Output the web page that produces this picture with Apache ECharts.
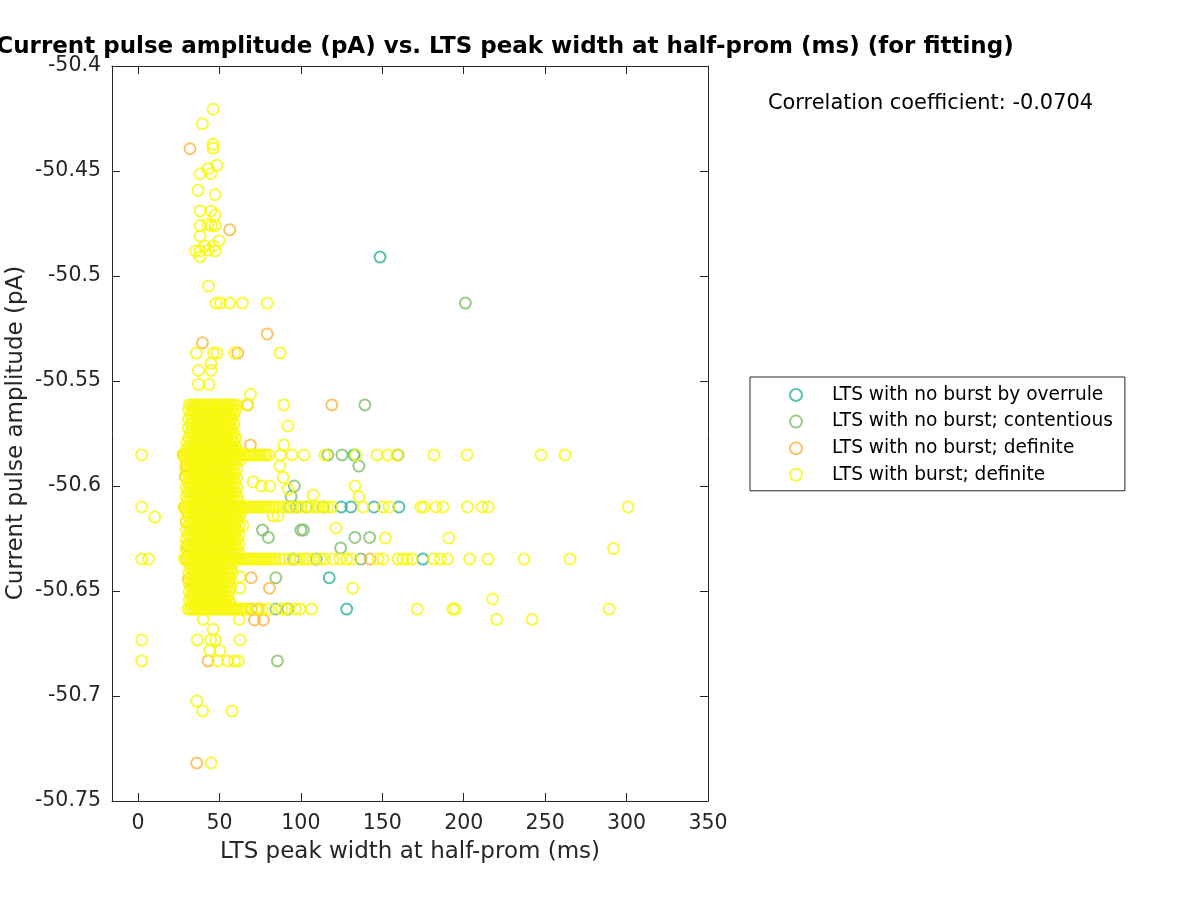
<!DOCTYPE html>
<html>
<head>
<meta charset="utf-8">
<script src="https://cdn.jsdelivr.net/npm/echarts@6/dist/echarts.min.js"></script>
<style>html,body{margin:0;padding:0;background:#fff;}#chart{width:1200px;height:900px;}</style>
</head>
<body>
<div id="chart"></div>
<script>
const FONT = '"DejaVu Sans", "Liberation Sans", sans-serif';
const titleText = 'Current pulse amplitude (pA) vs. LTS peak width at half-prom (ms) (for fitting)';
const xLabel = 'LTS peak width at half-prom (ms)';
const yLabel = 'Current pulse amplitude (pA)';
const corrText = 'Correlation coefficient: -0.0704';
const seriesNames = ['LTS with no burst by overrule', 'LTS with no burst; contentious', 'LTS with no burst; definite', 'LTS with burst; definite'];
const xTicks = [0, 50, 100, 150, 200, 250, 300, 350];

// rows: [current pulse amplitude (pA), [LTS peak widths (ms)]]
const overruleRows = [
  [-50.491, [148.6]],
  [-50.5852, [132.6]],
  [-50.61, [124.8, 130.7, 144.9, 160.2]],
  [-50.6348, [174.9]],
  [-50.6437, [117.4]],
  [-50.6586, [128.1]]
];

const contentiousRows = [
  [-50.5129, [201]],
  [-50.5614, [139.3]],
  [-50.5852, [116.6, 125.2, 159.6]],
  [-50.5905, [135.6]],
  [-50.6, [96]],
  [-50.605, [94]],
  [-50.61, [93.2, 97.3, 103.5, 113.7]],
  [-50.621, [76.4, 100, 101.5]],
  [-50.6245, [80, 133.2, 142.2]],
  [-50.6295, [124.4]],
  [-50.6348, [95.5, 109.5, 136.8]],
  [-50.6437, [84.6]],
  [-50.6586, [84.6, 92]],
  [-50.6833, [85.6]]
];

const definiteRows = [
  [-50.4394, [31.9]],
  [-50.478, [56.3]],
  [-50.5276, [79.3]],
  [-50.5318, [39.5]],
  [-50.5367, [61.2]],
  [-50.5614, [67.4, 119]],
  [-50.5625, [35]],
  [-50.5805, [69]],
  [-50.5852, [28]],
  [-50.5905, [29.5]],
  [-50.5955, [29]],
  [-50.61, [28.5]],
  [-50.617, [29.5]],
  [-50.6285, [30]],
  [-50.6348, [29.9, 142.4]],
  [-50.6437, [69.5]],
  [-50.6445, [31]],
  [-50.6463, [34.8]],
  [-50.6487, [80.7]],
  [-50.6586, [69.7, 73.7]],
  [-50.6638, [71.5, 77]],
  [-50.6833, [43]],
  [-50.7319, [36]]
];

const burstRows = [
  [-50.4206, [46.1]],
  [-50.4275, [39.5]],
  [-50.4373, [46.1]],
  [-50.4392, [46.1]],
  [-50.4473, [48.5]],
  [-50.4489, [43]],
  [-50.4513, [38.1, 44.8]],
  [-50.4592, [36.8]],
  [-50.4613, [47.3]],
  [-50.469, [38.1, 44.8]],
  [-50.471, [47.3]],
  [-50.4755, [43]],
  [-50.476, [38.1, 45.1, 47.3]],
  [-50.4811, [38.1]],
  [-50.4832, [49.7]],
  [-50.4857, [40.8, 46.3]],
  [-50.4876, [43.2]],
  [-50.4881, [35.4, 38.1, 47.3]],
  [-50.4908, [38.1]],
  [-50.5048, [43.2]],
  [-50.5129, [48, 50.6, 56.3, 64.1, 79.3]],
  [-50.5367, [35.8, 46.3, 48.5, 59.2, 87.3]],
  [-50.5416, [44.8]],
  [-50.545, [37.1, 44.8]],
  [-50.5516, [37.1, 43.6]],
  [-50.5563, [69]],
  [-50.5614, [31.5, 33.2, 34.6, 36.3, 37.8, 39.1, 40.7, 42.2, 43.6, 45.3, 46.8, 48.1, 49.7, 51.2, 52.6, 54.3, 55.8, 57.1, 58.7, 60.2, 66.9, 89.5]],
  [-50.5638, [31.2, 33.7, 36, 38.4, 40.9, 43.1, 45.6, 48, 50.3, 52.8, 55.1, 57.6, 60]],
  [-50.566, [32.4, 34.8, 37.1, 39.6, 42, 44.3, 46.7, 49.2, 51.5, 53.9, 56.4, 58.7]],
  [-50.5682, [31, 33.5, 35.9, 38.3, 40.7, 43.2, 45.5, 47.9, 50.4, 52.7, 55.2, 57.5]],
  [-50.5704, [32.3, 34.7, 37.2, 39.5, 41.9, 44.4, 46.8, 49.1, 51.6, 54, 56.3, 58.8]],
  [-50.5714, [92]],
  [-50.5726, [30.8, 33.3, 35.7, 38.1, 40.6, 42.9, 45.4, 47.8, 50.1, 52.6, 55, 57.4]],
  [-50.5748, [32.1, 34.6, 36.9, 39.4, 41.8, 44.2, 46.5, 49, 51.4, 53.7, 56.2, 58.6]],
  [-50.577, [31.1, 33.4, 35.9, 38.3, 40.7, 43.1, 45.6, 47.9, 50.3, 52.8, 55.1, 57.5, 59.9]],
  [-50.5792, [29.9, 32.3, 34.8, 37.1, 39.5, 42, 44.3, 46.8, 49.2, 51.5, 54, 56.4, 58.7]],
  [-50.5805, [89.5]],
  [-50.5814, [31, 33.5, 35.8, 38.2, 40.7, 43, 45.5, 47.9, 50.2, 52.7, 55.1, 57.4, 60.1]],
  [-50.5832, [29.4, 32.2, 34.6, 37, 39.5, 41.8, 44.3, 46.6, 49.1, 51.5, 53.8, 56.3, 58.7, 61.2]],
  [-50.5852, [2.2, 27.5, 29.1, 30.4, 32.2, 33.5, 35.1, 36.4, 38.2, 39.6, 41.1, 42.4, 44.2, 45.5, 47.1, 48.6, 50.2, 51.4, 53.1, 54.6, 56.2, 57.4, 59.1, 60.6, 62.2, 63.4, 65.1, 66.5, 68.2, 69.4, 71.1, 72.6, 74.2, 75.4, 77.1, 78.5, 80.2, 87.5, 94.5, 102, 114.7, 133.8, 146.7, 153.4, 159, 181.7, 202, 247.5, 262.2]],
  [-50.5874, [29.2, 31.6, 34.1, 36.5, 38.8, 41.3, 43.6, 46, 48.5, 50.9, 53.2, 55.7, 58.1, 60.6, 63]],
  [-50.5896, [30.4, 32.8, 35.3, 37.6, 40.1, 42.5, 44.8, 47.3, 49.7, 52, 54.5, 56.9, 59.3]],
  [-50.5905, [87.1]],
  [-50.5918, [29.3, 31.7, 34.2, 36.4, 38.9, 41.3, 43.6, 46.1, 48.5, 50.8, 53.3, 55.6, 58, 60.5]],
  [-50.594, [30.5, 32.9, 35.2, 37.7, 40.1, 42.4, 44.9, 47.3, 49.6, 52.1, 54.5, 56.8, 59.3]],
  [-50.5959, [89.1]],
  [-50.5962, [29.4, 31.8, 34.2, 36.5, 39, 41.4, 43.7, 46.2, 48.6, 50.9, 53.4, 55.8, 58.1, 60.6]],
  [-50.598, [70.7]],
  [-50.5984, [30.6, 33, 35.3, 37.8, 40.2, 42.5, 45, 47.4, 49.7, 52.2, 54.6, 56.9, 59.4]],
  [-50.6, [75.8, 80.9, 133.2]],
  [-50.6006, [29.5, 31.9, 34.3, 36.6, 39.1, 41.5, 43.8, 46.3, 48.7, 51, 53.5, 55.9, 58.2, 60.7]],
  [-50.6016, [92.2]],
  [-50.6028, [30.7, 33.1, 35.4, 37.9, 40.3, 42.6, 45.1, 47.5, 49.8, 52.3, 54.7, 57, 59.5]],
  [-50.6043, [107.5]],
  [-50.605, [29.6, 32, 34.4, 36.7, 39.2, 41.6, 43.9, 46.4, 48.8, 51.1, 53.6, 56, 58.3, 60.8]],
  [-50.6051, [135.6]],
  [-50.6072, [30.3, 32.7, 35.2, 37.5, 39.8, 42.3, 44.6, 47.1, 49.6, 51.9, 54.2, 56.7, 59.1, 61.5]],
  [-50.61, [2.2, 28.2, 29.6, 31.1, 32.5, 34.2, 35.6, 37.1, 38.5, 40.2, 41.6, 43.1, 44.5, 46.2, 47.6, 49.1, 50.5, 52.2, 53.6, 55.1, 56.5, 58.2, 59.6, 61.1, 62.5, 64.2, 65.6, 67.1, 68.5, 70.2, 71.6, 73.1, 74.5, 76.2, 77.6, 79.1, 80.8, 82.4, 84.5, 87, 89.5, 92, 95, 98, 100.5, 104, 106, 109, 111, 114, 116.5, 119, 138.2, 150.5, 154.2, 173.7, 175.6, 183, 187.3, 202.3, 211.2, 215.1, 300.9]],
  [-50.6122, [29.8, 32.3, 34.6, 37, 39.5, 41.8, 44.1, 46.6, 49, 51.3, 53.8, 56.2, 58.5, 61, 63.4]],
  [-50.6142, [82.9, 86]],
  [-50.6144, [31, 33.4, 35.9, 38.2, 40.6, 43.1, 45.4, 47.8, 50.3, 52.6, 55, 57.5, 59.8, 62.2]],
  [-50.6148, [10.2]],
  [-50.6166, [29.7, 32.1, 34.5, 37, 39.3, 41.7, 44.2, 46.5, 48.9, 51.4, 53.7, 56.1, 58.6, 60.9]],
  [-50.6188, [30.9, 33.3, 35.8, 38.1, 40.5, 43, 45.3, 47.7, 50.2, 52.5, 54.9, 57.4, 59.7, 62.1, 64.5]],
  [-50.62, [121.5]],
  [-50.621, [29.6, 32, 34.5, 36.8, 39.2, 41.7, 44, 46.4, 48.9, 51.2, 53.6, 56.1, 58.4, 60.8]],
  [-50.6232, [30.8, 33.2, 35.7, 38, 40.4, 42.9, 45.2, 47.6, 50.1, 52.4, 54.8, 57.3, 59.6, 62]],
  [-50.6248, [151.8, 190.8]],
  [-50.6254, [29.5, 31.9, 34.4, 36.7, 39.1, 41.6, 43.9, 46.3, 48.8, 51.1, 53.5, 56, 58.3, 60.7]],
  [-50.6276, [30.7, 33.1, 35.6, 37.9, 40.3, 42.8, 45.1, 47.5, 50, 52.3, 54.7, 57.2, 59.5, 61.9]],
  [-50.6298, [29.4, 31.8, 34.3, 36.6, 39, 41.5, 43.8, 46.2, 48.7, 51, 53.4, 55.9, 58.2, 60.6, 292]],
  [-50.632, [30.6, 33, 35.5, 37.8, 40.2, 42.7, 45, 47.4, 49.9, 52.2, 54.6, 57.1, 59.4, 61.8]],
  [-50.6348, [2.2, 6.5, 28.3, 29.8, 31.2, 32.7, 34.3, 35.8, 37.2, 38.7, 40.3, 41.8, 43.2, 44.7, 46.3, 47.8, 49.2, 50.7, 52.3, 53.8, 55.2, 56.7, 58.3, 59.8, 61.2, 62.7, 64.3, 65.8, 67.2, 68.7, 70.3, 71.8, 73.2, 74.7, 76.3, 77.8, 79.2, 80.7, 82.3, 84, 87, 90, 93, 97, 99.4, 102.4, 104.3, 107.4, 112, 114.7, 119.7, 124, 128.2, 131.3, 147.3, 150.4, 159.6, 162.5, 165.1, 168.2, 181.5, 185.6, 190, 203.7, 215, 237, 265.2]],
  [-50.637, [31.3, 33.6, 36.2, 38.5, 41, 43.3, 45.9, 48.2, 50.6, 53.1, 55.4, 57.9]],
  [-50.6392, [32.5, 34.9, 37.4, 39.7, 42.3, 44.6, 47, 49.5, 51.8, 54.4, 56.7]],
  [-50.6414, [31.1, 33.7, 36, 38.6, 40.9, 43.4, 45.8, 48.3, 50.7, 53, 55.5, 58]],
  [-50.6432, [62.5]],
  [-50.6436, [32.4, 34.8, 37.3, 39.8, 42.1, 44.7, 47.1, 49.4, 51.9, 54.3, 56.6]],
  [-50.6458, [31.2, 33.5, 36.1, 38.4, 40.8, 43.5, 45.7, 48.1, 50.8, 53.2, 55.6]],
  [-50.648, [32.6, 35, 37.5, 39.9, 42.2, 44.8, 47.2, 49.6, 52, 54.5, 57]],
  [-50.6487, [62.5, 131.8]],
  [-50.6502, [31.4, 33.8, 36.3, 38.7, 41.1, 43.6, 46, 48.4, 50.9, 53.3, 55.8]],
  [-50.6524, [32.7, 35.1, 37.6, 40, 42.4, 44.9, 47.3, 49.8, 52.2, 54.6]],
  [-50.6538, [217.7]],
  [-50.6546, [31.5, 33.9, 36.4, 38.8, 41.2, 43.7, 46.1, 48.5, 51, 53.4, 55.9]],
  [-50.6566, [32.8, 35.2, 37.7, 40.1, 42.5, 45, 47.4, 49.9, 52.3, 54.7, 57.2]],
  [-50.6586, [30.6, 32.1, 33.5, 35.2, 36.6, 38.1, 39.5, 41.2, 42.6, 44.1, 45.5, 47.2, 48.6, 50.1, 51.5, 53.2, 54.6, 56.1, 57.5, 59.2, 60.6, 62.1, 63.5, 65.2, 66.8, 72.5, 76, 80, 88.3, 91, 96.6, 99.4, 106.5, 171.5, 193.3, 194.7, 289.3]],
  [-50.6635, [39.9, 62, 220.2, 242]],
  [-50.6682, [46.1]],
  [-50.6733, [2.2, 36.4, 44.6, 47.5, 62.6]],
  [-50.6784, [44, 50.2]],
  [-50.6833, [2.2, 48.8, 55, 59.2, 61.6]],
  [-50.7024, [36]],
  [-50.7071, [39.7, 57.8]],
  [-50.7319, [44.8]]
];

const seriesColors = ['#2cb39c', '#80be6c', '#fbb53e', '#f7f70c'];
const allRows = [overruleRows, contentiousRows, definiteRows, burstRows];

function toPoints(rows) {
  const pts = [];
  rows.forEach(([y, xs]) => xs.forEach(x => pts.push([x, y])));
  return pts;
}

const chart = echarts.init(document.getElementById('chart'), null, {renderer: 'canvas'});

const axisCommon = {
  axisLine: {show: true, onZero: false, lineStyle: {color: '#262626', width: 1}},
  splitLine: {show: false}
};

const option = {
  animation: false,
  backgroundColor: '#ffffff',
  grid: {left: 112, right: 492, top: 66, bottom: 99, containLabel: false},
  xAxis: [
    Object.assign({}, axisCommon, {
      type: 'value', min: -16, max: 350, position: 'bottom',
      axisTick: {show: true, inside: true, length: 8, customValues: xTicks, lineStyle: {color: '#262626'}},
      axisLabel: {customValues: xTicks, fontSize: 20.5, color: '#262626', fontFamily: FONT, margin: 12}
    }),
    Object.assign({}, axisCommon, {
      type: 'value', min: -16, max: 350, position: 'top',
      axisTick: {show: true, inside: true, length: 8, customValues: xTicks, lineStyle: {color: '#262626'}},
      axisLabel: {show: false}
    })
  ],
  yAxis: [
    Object.assign({}, axisCommon, {
      type: 'value', min: -50.75, max: -50.4, interval: 0.05, position: 'left',
      axisTick: {show: true, inside: true, length: 8, lineStyle: {color: '#262626'}},
      axisLabel: {fontSize: 20.5, color: '#262626', fontFamily: FONT, margin: 11,
        formatter: v => String(+v.toFixed(2))}
    }),
    Object.assign({}, axisCommon, {
      type: 'value', min: -50.75, max: -50.4, interval: 0.05, position: 'right',
      axisTick: {show: true, inside: true, length: 8, lineStyle: {color: '#262626'}},
      axisLabel: {show: false}
    })
  ],
  legend: {
    orient: 'vertical', left: 750, top: 377,
    padding: [8.5, 12, 6.5, 39],
    itemWidth: 62, itemHeight: 12, itemGap: 7.6,
    borderColor: '#262626', borderWidth: 1,
    backgroundColor: '#ffffff',
    textStyle: {fontSize: 18.6, color: '#000', fontFamily: FONT},
    data: seriesNames
  },
  graphic: [
    {type: 'text', x: 505, y: 47, silent: true,
      style: {text: titleText, fontFamily: FONT, fontWeight: 'bold', fontSize: 23, fill: '#000', align: 'center', verticalAlign: 'middle'}},
    {type: 'text', x: 768, y: 104, silent: true,
      style: {text: corrText, fontFamily: FONT, fontSize: 20.9, fill: '#000', align: 'left', verticalAlign: 'middle'}},
    {type: 'text', x: 410, y: 852, silent: true,
      style: {text: xLabel, fontFamily: FONT, fontSize: 23, fill: '#262626', align: 'center', verticalAlign: 'middle'}},
    {type: 'text', x: 16, y: 433, rotation: Math.PI / 2, silent: true,
      style: {text: yLabel, fontFamily: FONT, fontSize: 23, fill: '#262626', align: 'center', verticalAlign: 'middle'}}
  ],
  series: seriesNames.map((name, i) => ({
    name: name,
    type: 'scatter',
    xAxisIndex: 0, yAxisIndex: 0,
    symbol: 'circle',
    symbolSize: 11,
    silent: true,
    itemStyle: {color: 'rgba(255,255,255,0)', borderColor: seriesColors[i], borderWidth: 2},
    data: toPoints(allRows[i]),
    z: 2 + i
  }))
};

chart.setOption(option);
</script>
</body>
</html>
